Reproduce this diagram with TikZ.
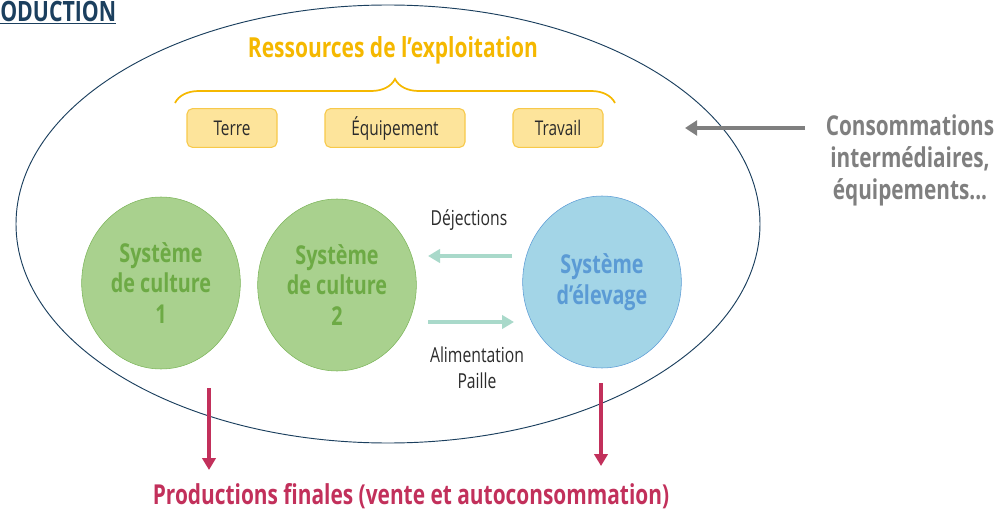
\documentclass[tikz,border=0pt]{standalone}
\usepackage{fontspec}
\setmainfont{Open Sans}[FakeStretch=0.76]
\usetikzlibrary{positioning}
\usetikzlibrary{arrows.meta}
\usetikzlibrary{shapes.geometric}
\usetikzlibrary{decorations.pathreplacing}
\definecolor{titleblue}{HTML}{1B3F5E}
\definecolor{resorange}{HTML}{F5B800}
\definecolor{boxfill}{HTML}{FDE49B}
\definecolor{boxline}{HTML}{F7C94A}
\definecolor{cultfill}{HTML}{A9D18E}
\definecolor{cultline}{HTML}{7CB55A}
\definecolor{culttext}{HTML}{6DAA45}
\definecolor{elevfill}{HTML}{A3D5E7}
\definecolor{elevline}{HTML}{5B9BD5}
\definecolor{elevtext}{HTML}{5B9BD5}
\definecolor{fluxcol}{HTML}{A9D9CA}
\definecolor{consocol}{HTML}{7F7F7F}
\definecolor{prodcol}{HTML}{C2305B}
\definecolor{labeltext}{HTML}{2B2B2B}
\tikzstyle{ressource}=[draw=boxline, fill=boxfill, rounded corners=4pt, line width=0.8pt,
  minimum width=67.5pt, minimum height=29pt, text=labeltext, font=\fontsize{15.2}{18}\selectfont]
\tikzstyle{culture}=[ellipse, draw=cultline, fill=cultfill, minimum width=119pt, minimum height=129pt,
  inner sep=0pt, text=culttext, align=center, font=\bfseries\fontsize{19.5}{23}\selectfont]
\tikzstyle{elevage}=[culture, draw=elevline, fill=elevfill, text=elevtext]
\tikzstyle{flux}=[draw=fluxcol, line width=3pt, -{Triangle[length=9pt,width=10pt]}]
\tikzstyle{fluxlabel}=[text=labeltext, align=center, font=\fontsize{15.5}{19.5}\selectfont]

\begin{document}
\begin{tikzpicture}[x=0.75pt, y=-0.75pt]
  \useasboundingbox (0,0) rectangle (1000,510);
  % titre coupe
  \node[anchor=north west, inner sep=0pt, text=titleblue,
    font=\bfseries\fontsize{21}{24}\selectfont] (titre) at (0,1) {\underline{ODUCTION}};
  % exploitation
  \draw[titleblue, line width=0.7pt] (388,224) ellipse [x radius=372, y radius=219];
  \node[text=resorange, font=\bfseries\fontsize{20.7}{24}\selectfont] (res) at (393,50)
    {Ressources de l’exploitation};
  \draw[resorange, line width=1.3pt, decorate, decoration={brace, amplitude=18pt}]
    (175,103) -- (615,103);
  \node[ressource] (terre) at (232,128) {Terre};
  \node[ressource, minimum width=105pt] (equip) at (395,128) {Équipement};
  \node[ressource] (travail) at (558,128) {Travail};
  % systemes
  \node[culture] (sc1) at (161,283) {Système\\de culture\\1};
  \node[culture] (sc2) at (337,285) {Système\\de culture\\2};
  \node[elevage] (se) at (602,282) {Système\\d’élevage};
  \coordinate (dej1) at (512,256);
  \coordinate (dej2) at (428,256);
  \coordinate (ali1) at (428,322);
  \coordinate (ali2) at (514,322);
  \draw[flux] (dej1) -- (dej2);
  \draw[flux] (ali1) -- (ali2);
  \node[fluxlabel] (dejl) at (469,220) {Déjections};
  \node[fluxlabel] (alil) at (477,368) {Alimentation\\Paille};
  % consommations
  \node[text=consocol, align=center, font=\bfseries\fontsize{20.5}{24}\selectfont] (conso)
    at (910,160) {Consommations\\intermédiaires,\\équipements...};
  \coordinate (conso1) at (805,128);
  \coordinate (conso2) at (685,128);
  \draw[consocol, line width=3.5pt, -{Triangle[length=9pt,width=11pt]}] (conso1) -- (conso2);
  % productions
  \node[text=prodcol, font=\bfseries\fontsize{20.6}{24}\selectfont] (prod) at (411,496)
    {Productions finales (vente et autoconsommation)};
  \coordinate (p1) at (209,388);
  \coordinate (p1b) at (209,470);
  \coordinate (p2) at (601,383);
  \coordinate (p2b) at (601,466);
  \draw[prodcol, line width=3pt, -{Triangle[length=9pt,width=10pt]}] (p1) -- (p1b);
  \draw[prodcol, line width=3pt, -{Triangle[length=9pt,width=10pt]}] (p2) -- (p2b);
\end{tikzpicture}
\end{document}
